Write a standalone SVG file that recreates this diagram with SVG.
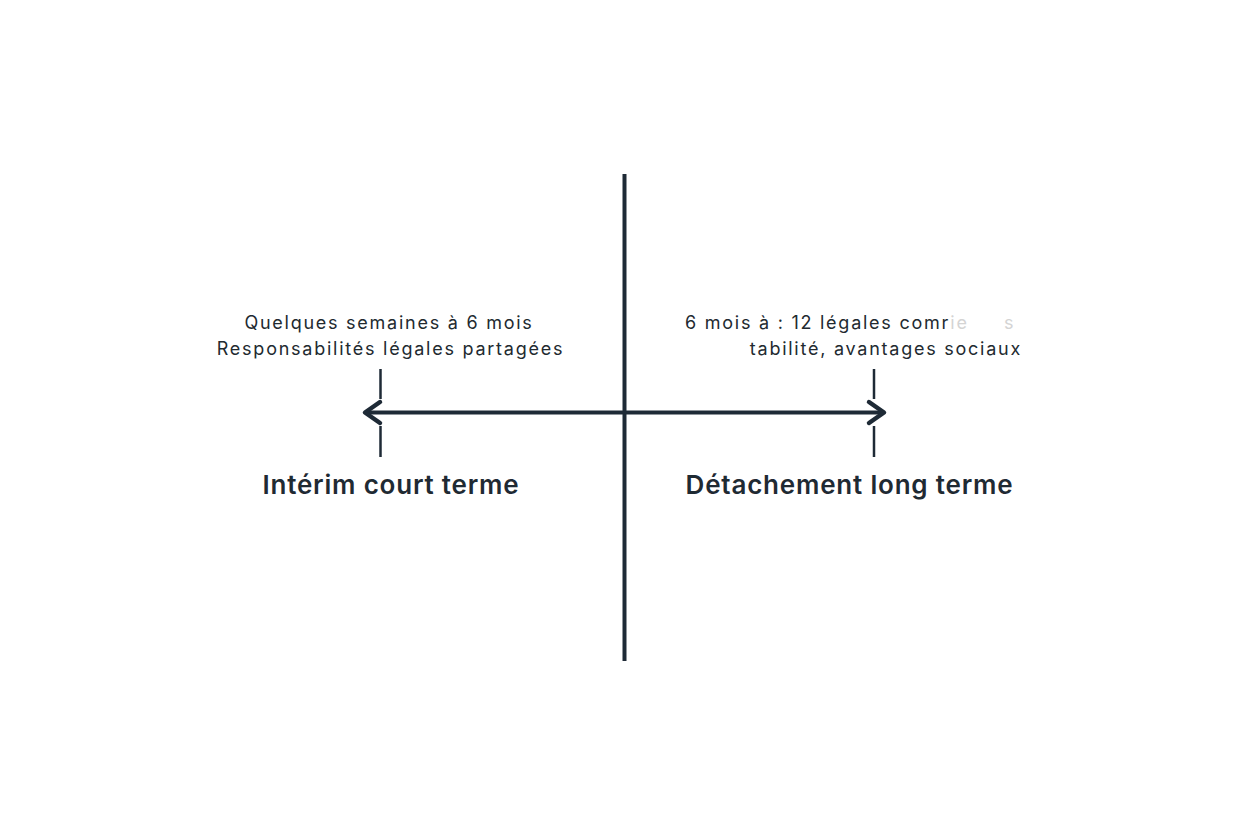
<svg xmlns="http://www.w3.org/2000/svg" width="1248" height="832" viewBox="0 0 1248 832">
  <style>
    .axis { stroke: #1e2a36; stroke-width: 4; fill: none; stroke-linecap: butt; }
    .tick { stroke: #1e2a36; stroke-width: 2.5; fill: none; }
    .head { stroke: #1e2a36; stroke-width: 4.5; fill: none; stroke-linejoin: round; stroke-linecap: round; }
    .small { font-family: Inter, "Liberation Sans", sans-serif; font-size: 18px; fill: #222a30; letter-spacing: 1.75px; }
    .faded { fill: #d4d4d4; }
    .title { font-family: Inter, "Liberation Sans", sans-serif; font-size: 26px; font-weight: 600; fill: #1f2a33; letter-spacing: 0.8px; }
  </style>
  <rect width="1248" height="832" fill="#ffffff"/>
  <g id="connectors">
    <line class="axis" x1="624.5" y1="174" x2="624.5" y2="661"/>
    <line class="axis" x1="366" y1="412.5" x2="882" y2="412.5" stroke-width="3.5"/>
    <path class="head" d="M380,402 L365,412.5 L380,423"/>
    <path class="head" d="M869,402 L884,412.5 L869,423"/>
  </g>
  <g id="node-left">
    <line class="tick" x1="380.5" y1="369" x2="380.5" y2="399"/>
    <line class="tick" x1="380.5" y1="426" x2="380.5" y2="457"/>
    <text class="small" x="389" y="329" text-anchor="middle">Quelques semaines à 6 mois</text>
    <text class="small" x="390.5" y="355" text-anchor="middle">Responsabilités légales partagées</text>
    <text class="title" x="391" y="494" text-anchor="middle">Intérim court terme</text>
  </g>
  <g id="node-right">
    <line class="tick" x1="874" y1="369" x2="874" y2="399"/>
    <line class="tick" x1="874" y1="426" x2="874" y2="457"/>
    <text class="small" x="685" y="329">6 mois à : 12 légales comr<tspan class="faded">ie</tspan><tspan class="faded" x="1004">s</tspan></text>
    <text class="small" x="1022" y="355" text-anchor="end">tabilité, avantages sociaux</text>
    <text class="title" x="849.5" y="494" text-anchor="middle">Détachement long terme</text>
  </g>
</svg>
